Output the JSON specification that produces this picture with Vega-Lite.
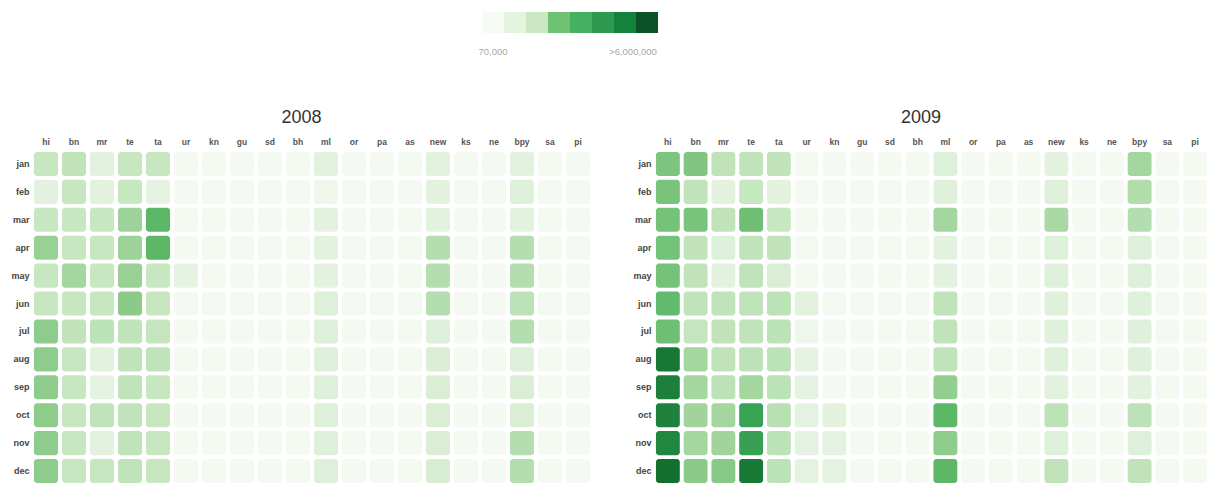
{
  "$schema": "https://vega.github.io/schema/vega-lite/v6.json",
  "background": "white",
  "padding": {"left": 10, "top": 12, "right": 0, "bottom": 0},
  "config": {
    "view": {"stroke": null},
    "font": "Liberation Sans",
    "axis": {"domain": false, "ticks": false, "grid": false, "title": null}
  },
  "datasets": {
    "legend": [
      {"swatch": 0}, {"swatch": 1}, {"swatch": 2}, {"swatch": 3},
      {"swatch": 4}, {"swatch": 5}, {"swatch": 6}, {"swatch": 7}
    ],
    "d2008": [
      {"month":"jan","lang":"hi","views":213000},{"month":"jan","lang":"bn","views":238000},{"month":"jan","lang":"mr","views":122000},{"month":"jan","lang":"te","views":213000},{"month":"jan","lang":"ta","views":213000},{"month":"jan","lang":"ur","views":68000},{"month":"jan","lang":"kn","views":55000},{"month":"jan","lang":"gu","views":50000},{"month":"jan","lang":"sd","views":30000},{"month":"jan","lang":"bh","views":35000},{"month":"jan","lang":"ml","views":122000},{"month":"jan","lang":"or","views":40000},{"month":"jan","lang":"pa","views":45000},{"month":"jan","lang":"as","views":30000},{"month":"jan","lang":"new","views":122000},{"month":"jan","lang":"ks","views":25000},{"month":"jan","lang":"ne","views":42000},{"month":"jan","lang":"bpy","views":122000},{"month":"jan","lang":"sa","views":20000},{"month":"jan","lang":"pi","views":15000},
      {"month":"feb","lang":"hi","views":122000},{"month":"feb","lang":"bn","views":213000},{"month":"feb","lang":"mr","views":122000},{"month":"feb","lang":"te","views":213000},{"month":"feb","lang":"ta","views":109000},{"month":"feb","lang":"ur","views":68000},{"month":"feb","lang":"kn","views":55000},{"month":"feb","lang":"gu","views":50000},{"month":"feb","lang":"sd","views":30000},{"month":"feb","lang":"bh","views":35000},{"month":"feb","lang":"ml","views":83000},{"month":"feb","lang":"or","views":40000},{"month":"feb","lang":"pa","views":45000},{"month":"feb","lang":"as","views":30000},{"month":"feb","lang":"new","views":122000},{"month":"feb","lang":"ks","views":25000},{"month":"feb","lang":"ne","views":42000},{"month":"feb","lang":"bpy","views":136000},{"month":"feb","lang":"sa","views":20000},{"month":"feb","lang":"pi","views":15000},
      {"month":"mar","lang":"hi","views":213000},{"month":"mar","lang":"bn","views":213000},{"month":"mar","lang":"mr","views":213000},{"month":"mar","lang":"te","views":416000},{"month":"mar","lang":"ta","views":1132000},{"month":"mar","lang":"ur","views":68000},{"month":"mar","lang":"kn","views":55000},{"month":"mar","lang":"gu","views":50000},{"month":"mar","lang":"sd","views":30000},{"month":"mar","lang":"bh","views":35000},{"month":"mar","lang":"ml","views":122000},{"month":"mar","lang":"or","views":40000},{"month":"mar","lang":"pa","views":45000},{"month":"mar","lang":"as","views":30000},{"month":"mar","lang":"new","views":122000},{"month":"mar","lang":"ks","views":25000},{"month":"mar","lang":"ne","views":42000},{"month":"mar","lang":"bpy","views":122000},{"month":"mar","lang":"sa","views":20000},{"month":"mar","lang":"pi","views":15000},
      {"month":"apr","lang":"hi","views":440000},{"month":"apr","lang":"bn","views":213000},{"month":"apr","lang":"mr","views":213000},{"month":"apr","lang":"te","views":416000},{"month":"apr","lang":"ta","views":1132000},{"month":"apr","lang":"ur","views":68000},{"month":"apr","lang":"kn","views":55000},{"month":"apr","lang":"gu","views":50000},{"month":"apr","lang":"sd","views":30000},{"month":"apr","lang":"bh","views":35000},{"month":"apr","lang":"ml","views":122000},{"month":"apr","lang":"or","views":40000},{"month":"apr","lang":"pa","views":45000},{"month":"apr","lang":"as","views":30000},{"month":"apr","lang":"new","views":282000},{"month":"apr","lang":"ks","views":25000},{"month":"apr","lang":"ne","views":42000},{"month":"apr","lang":"bpy","views":282000},{"month":"apr","lang":"sa","views":20000},{"month":"apr","lang":"pi","views":15000},
      {"month":"may","lang":"hi","views":213000},{"month":"may","lang":"bn","views":372000},{"month":"may","lang":"mr","views":213000},{"month":"may","lang":"te","views":440000},{"month":"may","lang":"ta","views":213000},{"month":"may","lang":"ur","views":109000},{"month":"may","lang":"kn","views":55000},{"month":"may","lang":"gu","views":50000},{"month":"may","lang":"sd","views":30000},{"month":"may","lang":"bh","views":35000},{"month":"may","lang":"ml","views":122000},{"month":"may","lang":"or","views":40000},{"month":"may","lang":"pa","views":45000},{"month":"may","lang":"as","views":30000},{"month":"may","lang":"new","views":282000},{"month":"may","lang":"ks","views":25000},{"month":"may","lang":"ne","views":42000},{"month":"may","lang":"bpy","views":282000},{"month":"may","lang":"sa","views":20000},{"month":"may","lang":"pi","views":15000},
      {"month":"jun","lang":"hi","views":213000},{"month":"jun","lang":"bn","views":213000},{"month":"jun","lang":"mr","views":213000},{"month":"jun","lang":"te","views":549000},{"month":"jun","lang":"ta","views":213000},{"month":"jun","lang":"ur","views":68000},{"month":"jun","lang":"kn","views":55000},{"month":"jun","lang":"gu","views":50000},{"month":"jun","lang":"sd","views":30000},{"month":"jun","lang":"bh","views":35000},{"month":"jun","lang":"ml","views":136000},{"month":"jun","lang":"or","views":40000},{"month":"jun","lang":"pa","views":45000},{"month":"jun","lang":"as","views":30000},{"month":"jun","lang":"new","views":282000},{"month":"jun","lang":"ks","views":25000},{"month":"jun","lang":"ne","views":42000},{"month":"jun","lang":"bpy","views":252000},{"month":"jun","lang":"sa","views":20000},{"month":"jun","lang":"pi","views":15000},
      {"month":"jul","lang":"hi","views":519000},{"month":"jul","lang":"bn","views":238000},{"month":"jul","lang":"mr","views":252000},{"month":"jul","lang":"te","views":238000},{"month":"jul","lang":"ta","views":225000},{"month":"jul","lang":"ur","views":68000},{"month":"jul","lang":"kn","views":55000},{"month":"jul","lang":"gu","views":50000},{"month":"jul","lang":"sd","views":30000},{"month":"jul","lang":"bh","views":35000},{"month":"jul","lang":"ml","views":136000},{"month":"jul","lang":"or","views":40000},{"month":"jul","lang":"pa","views":45000},{"month":"jul","lang":"as","views":30000},{"month":"jul","lang":"new","views":136000},{"month":"jul","lang":"ks","views":25000},{"month":"jul","lang":"ne","views":42000},{"month":"jul","lang":"bpy","views":282000},{"month":"jul","lang":"sa","views":20000},{"month":"jul","lang":"pi","views":15000},
      {"month":"aug","lang":"hi","views":519000},{"month":"aug","lang":"bn","views":213000},{"month":"aug","lang":"mr","views":122000},{"month":"aug","lang":"te","views":238000},{"month":"aug","lang":"ta","views":238000},{"month":"aug","lang":"ur","views":68000},{"month":"aug","lang":"kn","views":55000},{"month":"aug","lang":"gu","views":50000},{"month":"aug","lang":"sd","views":30000},{"month":"aug","lang":"bh","views":35000},{"month":"aug","lang":"ml","views":136000},{"month":"aug","lang":"or","views":40000},{"month":"aug","lang":"pa","views":45000},{"month":"aug","lang":"as","views":30000},{"month":"aug","lang":"new","views":144000},{"month":"aug","lang":"ks","views":25000},{"month":"aug","lang":"ne","views":42000},{"month":"aug","lang":"bpy","views":136000},{"month":"aug","lang":"sa","views":20000},{"month":"aug","lang":"pi","views":15000},
      {"month":"sep","lang":"hi","views":519000},{"month":"sep","lang":"bn","views":213000},{"month":"sep","lang":"mr","views":115000},{"month":"sep","lang":"te","views":238000},{"month":"sep","lang":"ta","views":213000},{"month":"sep","lang":"ur","views":68000},{"month":"sep","lang":"kn","views":55000},{"month":"sep","lang":"gu","views":50000},{"month":"sep","lang":"sd","views":30000},{"month":"sep","lang":"bh","views":35000},{"month":"sep","lang":"ml","views":136000},{"month":"sep","lang":"or","views":40000},{"month":"sep","lang":"pa","views":45000},{"month":"sep","lang":"as","views":30000},{"month":"sep","lang":"new","views":144000},{"month":"sep","lang":"ks","views":25000},{"month":"sep","lang":"ne","views":42000},{"month":"sep","lang":"bpy","views":144000},{"month":"sep","lang":"sa","views":20000},{"month":"sep","lang":"pi","views":15000},
      {"month":"oct","lang":"hi","views":519000},{"month":"oct","lang":"bn","views":213000},{"month":"oct","lang":"mr","views":238000},{"month":"oct","lang":"te","views":238000},{"month":"oct","lang":"ta","views":213000},{"month":"oct","lang":"ur","views":68000},{"month":"oct","lang":"kn","views":55000},{"month":"oct","lang":"gu","views":50000},{"month":"oct","lang":"sd","views":30000},{"month":"oct","lang":"bh","views":35000},{"month":"oct","lang":"ml","views":136000},{"month":"oct","lang":"or","views":40000},{"month":"oct","lang":"pa","views":45000},{"month":"oct","lang":"as","views":30000},{"month":"oct","lang":"new","views":144000},{"month":"oct","lang":"ks","views":25000},{"month":"oct","lang":"ne","views":42000},{"month":"oct","lang":"bpy","views":144000},{"month":"oct","lang":"sa","views":20000},{"month":"oct","lang":"pi","views":15000},
      {"month":"nov","lang":"hi","views":519000},{"month":"nov","lang":"bn","views":213000},{"month":"nov","lang":"mr","views":122000},{"month":"nov","lang":"te","views":238000},{"month":"nov","lang":"ta","views":213000},{"month":"nov","lang":"ur","views":68000},{"month":"nov","lang":"kn","views":55000},{"month":"nov","lang":"gu","views":50000},{"month":"nov","lang":"sd","views":30000},{"month":"nov","lang":"bh","views":35000},{"month":"nov","lang":"ml","views":136000},{"month":"nov","lang":"or","views":40000},{"month":"nov","lang":"pa","views":45000},{"month":"nov","lang":"as","views":30000},{"month":"nov","lang":"new","views":144000},{"month":"nov","lang":"ks","views":25000},{"month":"nov","lang":"ne","views":42000},{"month":"nov","lang":"bpy","views":282000},{"month":"nov","lang":"sa","views":20000},{"month":"nov","lang":"pi","views":15000},
      {"month":"dec","lang":"hi","views":519000},{"month":"dec","lang":"bn","views":213000},{"month":"dec","lang":"mr","views":213000},{"month":"dec","lang":"te","views":238000},{"month":"dec","lang":"ta","views":213000},{"month":"dec","lang":"ur","views":68000},{"month":"dec","lang":"kn","views":55000},{"month":"dec","lang":"gu","views":50000},{"month":"dec","lang":"sd","views":30000},{"month":"dec","lang":"bh","views":35000},{"month":"dec","lang":"ml","views":136000},{"month":"dec","lang":"or","views":40000},{"month":"dec","lang":"pa","views":45000},{"month":"dec","lang":"as","views":30000},{"month":"dec","lang":"new","views":153000},{"month":"dec","lang":"ks","views":25000},{"month":"dec","lang":"ne","views":42000},{"month":"dec","lang":"bpy","views":282000},{"month":"dec","lang":"sa","views":20000},{"month":"dec","lang":"pi","views":15000}
    ],
    "d2009": [
      {"month":"jan","lang":"hi","views":686000},{"month":"jan","lang":"bn","views":649000},{"month":"jan","lang":"mr","views":238000},{"month":"jan","lang":"te","views":238000},{"month":"jan","lang":"ta","views":238000},{"month":"jan","lang":"ur","views":68000},{"month":"jan","lang":"kn","views":55000},{"month":"jan","lang":"gu","views":50000},{"month":"jan","lang":"sd","views":30000},{"month":"jan","lang":"bh","views":35000},{"month":"jan","lang":"ml","views":136000},{"month":"jan","lang":"or","views":40000},{"month":"jan","lang":"pa","views":45000},{"month":"jan","lang":"as","views":30000},{"month":"jan","lang":"new","views":122000},{"month":"jan","lang":"ks","views":25000},{"month":"jan","lang":"ne","views":42000},{"month":"jan","lang":"bpy","views":372000},{"month":"jan","lang":"sa","views":20000},{"month":"jan","lang":"pi","views":15000},
      {"month":"feb","lang":"hi","views":725000},{"month":"feb","lang":"bn","views":238000},{"month":"feb","lang":"mr","views":122000},{"month":"feb","lang":"te","views":213000},{"month":"feb","lang":"ta","views":122000},{"month":"feb","lang":"ur","views":68000},{"month":"feb","lang":"kn","views":55000},{"month":"feb","lang":"gu","views":50000},{"month":"feb","lang":"sd","views":30000},{"month":"feb","lang":"bh","views":35000},{"month":"feb","lang":"ml","views":129000},{"month":"feb","lang":"or","views":40000},{"month":"feb","lang":"pa","views":45000},{"month":"feb","lang":"as","views":30000},{"month":"feb","lang":"new","views":136000},{"month":"feb","lang":"ks","views":25000},{"month":"feb","lang":"ne","views":42000},{"month":"feb","lang":"bpy","views":298000},{"month":"feb","lang":"sa","views":20000},{"month":"feb","lang":"pi","views":15000},
      {"month":"mar","lang":"hi","views":767000},{"month":"mar","lang":"bn","views":725000},{"month":"mar","lang":"mr","views":238000},{"month":"mar","lang":"te","views":857000},{"month":"mar","lang":"ta","views":213000},{"month":"mar","lang":"ur","views":68000},{"month":"mar","lang":"kn","views":55000},{"month":"mar","lang":"gu","views":50000},{"month":"mar","lang":"sd","views":30000},{"month":"mar","lang":"bh","views":35000},{"month":"mar","lang":"ml","views":372000},{"month":"mar","lang":"or","views":40000},{"month":"mar","lang":"pa","views":45000},{"month":"mar","lang":"as","views":30000},{"month":"mar","lang":"new","views":333000},{"month":"mar","lang":"ks","views":25000},{"month":"mar","lang":"ne","views":42000},{"month":"mar","lang":"bpy","views":282000},{"month":"mar","lang":"sa","views":20000},{"month":"mar","lang":"pi","views":15000},
      {"month":"apr","lang":"hi","views":767000},{"month":"apr","lang":"bn","views":238000},{"month":"apr","lang":"mr","views":136000},{"month":"apr","lang":"te","views":238000},{"month":"apr","lang":"ta","views":238000},{"month":"apr","lang":"ur","views":68000},{"month":"apr","lang":"kn","views":55000},{"month":"apr","lang":"gu","views":50000},{"month":"apr","lang":"sd","views":30000},{"month":"apr","lang":"bh","views":35000},{"month":"apr","lang":"ml","views":122000},{"month":"apr","lang":"or","views":40000},{"month":"apr","lang":"pa","views":45000},{"month":"apr","lang":"as","views":30000},{"month":"apr","lang":"new","views":136000},{"month":"apr","lang":"ks","views":25000},{"month":"apr","lang":"ne","views":42000},{"month":"apr","lang":"bpy","views":136000},{"month":"apr","lang":"sa","views":20000},{"month":"apr","lang":"pi","views":15000},
      {"month":"may","lang":"hi","views":767000},{"month":"may","lang":"bn","views":238000},{"month":"may","lang":"mr","views":122000},{"month":"may","lang":"te","views":238000},{"month":"may","lang":"ta","views":144000},{"month":"may","lang":"ur","views":68000},{"month":"may","lang":"kn","views":55000},{"month":"may","lang":"gu","views":50000},{"month":"may","lang":"sd","views":30000},{"month":"may","lang":"bh","views":35000},{"month":"may","lang":"ml","views":122000},{"month":"may","lang":"or","views":40000},{"month":"may","lang":"pa","views":45000},{"month":"may","lang":"as","views":30000},{"month":"may","lang":"new","views":136000},{"month":"may","lang":"ks","views":25000},{"month":"may","lang":"ne","views":42000},{"month":"may","lang":"bpy","views":136000},{"month":"may","lang":"sa","views":20000},{"month":"may","lang":"pi","views":15000},
      {"month":"jun","lang":"hi","views":1013000},{"month":"jun","lang":"bn","views":238000},{"month":"jun","lang":"mr","views":238000},{"month":"jun","lang":"te","views":238000},{"month":"jun","lang":"ta","views":252000},{"month":"jun","lang":"ur","views":122000},{"month":"jun","lang":"kn","views":55000},{"month":"jun","lang":"gu","views":50000},{"month":"jun","lang":"sd","views":30000},{"month":"jun","lang":"bh","views":35000},{"month":"jun","lang":"ml","views":238000},{"month":"jun","lang":"or","views":40000},{"month":"jun","lang":"pa","views":45000},{"month":"jun","lang":"as","views":30000},{"month":"jun","lang":"new","views":129000},{"month":"jun","lang":"ks","views":25000},{"month":"jun","lang":"ne","views":42000},{"month":"jun","lang":"bpy","views":129000},{"month":"jun","lang":"sa","views":20000},{"month":"jun","lang":"pi","views":15000},
      {"month":"jul","lang":"hi","views":857000},{"month":"jul","lang":"bn","views":225000},{"month":"jul","lang":"mr","views":238000},{"month":"jul","lang":"te","views":238000},{"month":"jul","lang":"ta","views":252000},{"month":"jul","lang":"ur","views":83000},{"month":"jul","lang":"kn","views":55000},{"month":"jul","lang":"gu","views":50000},{"month":"jul","lang":"sd","views":30000},{"month":"jul","lang":"bh","views":35000},{"month":"jul","lang":"ml","views":238000},{"month":"jul","lang":"or","views":40000},{"month":"jul","lang":"pa","views":45000},{"month":"jul","lang":"as","views":30000},{"month":"jul","lang":"new","views":129000},{"month":"jul","lang":"ks","views":25000},{"month":"jul","lang":"ne","views":42000},{"month":"jul","lang":"bpy","views":129000},{"month":"jul","lang":"sa","views":20000},{"month":"jul","lang":"pi","views":15000},
      {"month":"aug","lang":"hi","views":5092000},{"month":"aug","lang":"bn","views":372000},{"month":"aug","lang":"mr","views":238000},{"month":"aug","lang":"te","views":252000},{"month":"aug","lang":"ta","views":252000},{"month":"aug","lang":"ur","views":109000},{"month":"aug","lang":"kn","views":55000},{"month":"aug","lang":"gu","views":50000},{"month":"aug","lang":"sd","views":30000},{"month":"aug","lang":"bh","views":35000},{"month":"aug","lang":"ml","views":238000},{"month":"aug","lang":"or","views":40000},{"month":"aug","lang":"pa","views":45000},{"month":"aug","lang":"as","views":30000},{"month":"aug","lang":"new","views":129000},{"month":"aug","lang":"ks","views":25000},{"month":"aug","lang":"ne","views":42000},{"month":"aug","lang":"bpy","views":129000},{"month":"aug","lang":"sa","views":20000},{"month":"aug","lang":"pi","views":15000},
      {"month":"sep","lang":"hi","views":4308000},{"month":"sep","lang":"bn","views":372000},{"month":"sep","lang":"mr","views":252000},{"month":"sep","lang":"te","views":372000},{"month":"sep","lang":"ta","views":252000},{"month":"sep","lang":"ur","views":109000},{"month":"sep","lang":"kn","views":55000},{"month":"sep","lang":"gu","views":50000},{"month":"sep","lang":"sd","views":30000},{"month":"sep","lang":"bh","views":35000},{"month":"sep","lang":"ml","views":491000},{"month":"sep","lang":"or","views":40000},{"month":"sep","lang":"pa","views":45000},{"month":"sep","lang":"as","views":30000},{"month":"sep","lang":"new","views":122000},{"month":"sep","lang":"ks","views":25000},{"month":"sep","lang":"ne","views":42000},{"month":"sep","lang":"bpy","views":122000},{"month":"sep","lang":"sa","views":20000},{"month":"sep","lang":"pi","views":15000},
      {"month":"oct","lang":"hi","views":4074000},{"month":"oct","lang":"bn","views":393000},{"month":"oct","lang":"mr","views":372000},{"month":"oct","lang":"te","views":1976000},{"month":"oct","lang":"ta","views":266000},{"month":"oct","lang":"ur","views":115000},{"month":"oct","lang":"kn","views":122000},{"month":"oct","lang":"gu","views":50000},{"month":"oct","lang":"sd","views":30000},{"month":"oct","lang":"bh","views":35000},{"month":"oct","lang":"ml","views":1132000},{"month":"oct","lang":"or","views":40000},{"month":"oct","lang":"pa","views":45000},{"month":"oct","lang":"as","views":30000},{"month":"oct","lang":"new","views":252000},{"month":"oct","lang":"ks","views":25000},{"month":"oct","lang":"ne","views":42000},{"month":"oct","lang":"bpy","views":252000},{"month":"oct","lang":"sa","views":20000},{"month":"oct","lang":"pi","views":15000},
      {"month":"nov","lang":"hi","views":3645000},{"month":"nov","lang":"bn","views":372000},{"month":"nov","lang":"mr","views":393000},{"month":"nov","lang":"te","views":2089000},{"month":"nov","lang":"ta","views":252000},{"month":"nov","lang":"ur","views":115000},{"month":"nov","lang":"kn","views":115000},{"month":"nov","lang":"gu","views":50000},{"month":"nov","lang":"sd","views":30000},{"month":"nov","lang":"bh","views":35000},{"month":"nov","lang":"ml","views":519000},{"month":"nov","lang":"or","views":40000},{"month":"nov","lang":"pa","views":45000},{"month":"nov","lang":"as","views":30000},{"month":"nov","lang":"new","views":136000},{"month":"nov","lang":"ks","views":25000},{"month":"nov","lang":"ne","views":42000},{"month":"nov","lang":"bpy","views":136000},{"month":"nov","lang":"sa","views":20000},{"month":"nov","lang":"pi","views":15000},
      {"month":"dec","lang":"hi","views":6017000},{"month":"dec","lang":"bn","views":549000},{"month":"dec","lang":"mr","views":581000},{"month":"dec","lang":"te","views":4816000},{"month":"dec","lang":"ta","views":252000},{"month":"dec","lang":"ur","views":115000},{"month":"dec","lang":"kn","views":115000},{"month":"dec","lang":"gu","views":50000},{"month":"dec","lang":"sd","views":30000},{"month":"dec","lang":"bh","views":35000},{"month":"dec","lang":"ml","views":1132000},{"month":"dec","lang":"or","views":40000},{"month":"dec","lang":"pa","views":45000},{"month":"dec","lang":"as","views":30000},{"month":"dec","lang":"new","views":238000},{"month":"dec","lang":"ks","views":25000},{"month":"dec","lang":"ne","views":42000},{"month":"dec","lang":"bpy","views":238000},{"month":"dec","lang":"sa","views":20000},{"month":"dec","lang":"pi","views":15000}
    ]
  },
  "spacing": 53,
  "resolve": {"scale": {"x": "independent", "y": "independent", "color": "independent"}},
  "vconcat": [
    {
      "data": {"name": "legend"},
      "width": 1176,
      "height": 21,
      "mark": {"type": "rect"},
      "encoding": {
        "x": {
          "field": "swatch", "type": "ordinal",
          "scale": {"range": [450, 626], "paddingInner": 0, "paddingOuter": 0},
          "axis": {
            "orient": "bottom", "labelAngle": 0,
            "labelExpr": "datum.value == 0 ? '70,000' : datum.value == 7 ? '>6,000,000' : ''",
            "labelFontSize": 9.5, "labelColor": "#a8a8a8", "labelPadding": 13,
            "labelOffset": {"condition": {"test": "datum.value == 7", "value": -14}, "value": 0}
          }
        },
        "color": {
          "field": "swatch", "type": "ordinal", "legend": null,
          "scale": {"range": ["#f6fbf4", "#e3f4df", "#c9e8c2", "#6fc274", "#45b061", "#2f9a4f", "#14823a", "#0c5226"]}
        }
      }
    },
    {
      "spacing": 40,
      "resolve": {"scale": {"x": "independent", "y": "independent", "color": "independent"}},
      "hconcat": [
        {
          "data": {"name": "d2008"},
          "title": {"text": "2008", "fontSize": 18, "fontWeight": "normal", "color": "#333333", "frame": "bounds", "anchor": "middle", "offset": 10},
          "width": 560,
          "height": 335,
          "mark": {"type": "rect", "cornerRadius": 3},
          "encoding": {
            "x": {
              "field": "lang", "type": "nominal",
              "scale": {"domain": ["hi","bn","mr","te","ta","ur","kn","gu","sd","bh","ml","or","pa","as","new","ks","ne","bpy","sa","pi"], "paddingInner": 0.14, "paddingOuter": 0.07},
              "axis": {"orient": "top", "labelAngle": 0, "labelFontSize": 8.5, "labelFontWeight": "bold", "labelColor": "#555555", "labelPadding": 4}
            },
            "y": {
              "field": "month", "type": "nominal",
              "scale": {"domain": ["jan","feb","mar","apr","may","jun","jul","aug","sep","oct","nov","dec"], "paddingInner": 0.14, "paddingOuter": 0.07},
              "axis": {"labelFontSize": 9, "labelFontWeight": "bold", "labelColor": "#444444", "labelPadding": 3}
            },
            "color": {
              "field": "views", "type": "quantitative", "legend": null,
              "scale": {"type": "log", "clamp": true, "interpolate": "rgb",
                "domain": [70000, 120000, 210000, 370000, 650000, 1130000, 1980000, 3450000, 6000000],
                "range": ["#f4faf2", "#e3f2df", "#c8e7c2", "#a4d69f", "#80c680", "#5cb767", "#3aa254", "#238a42", "#12702f"]}
            }
          }
        },
        {
          "data": {"name": "d2009"},
          "title": {"text": "2009", "fontSize": 18, "fontWeight": "normal", "color": "#333333", "frame": "bounds", "anchor": "middle", "offset": 10},
          "width": 555,
          "height": 335,
          "mark": {"type": "rect", "cornerRadius": 3},
          "encoding": {
            "x": {
              "field": "lang", "type": "nominal",
              "scale": {"domain": ["hi","bn","mr","te","ta","ur","kn","gu","sd","bh","ml","or","pa","as","new","ks","ne","bpy","sa","pi"], "paddingInner": 0.14, "paddingOuter": 0.07},
              "axis": {"orient": "top", "labelAngle": 0, "labelFontSize": 8.5, "labelFontWeight": "bold", "labelColor": "#555555", "labelPadding": 4}
            },
            "y": {
              "field": "month", "type": "nominal",
              "scale": {"domain": ["jan","feb","mar","apr","may","jun","jul","aug","sep","oct","nov","dec"], "paddingInner": 0.14, "paddingOuter": 0.07},
              "axis": {"labelFontSize": 9, "labelFontWeight": "bold", "labelColor": "#444444", "labelPadding": 3}
            },
            "color": {
              "field": "views", "type": "quantitative", "legend": null,
              "scale": {"type": "log", "clamp": true, "interpolate": "rgb",
                "domain": [70000, 120000, 210000, 370000, 650000, 1130000, 1980000, 3450000, 6000000],
                "range": ["#f4faf2", "#e3f2df", "#c8e7c2", "#a4d69f", "#80c680", "#5cb767", "#3aa254", "#238a42", "#12702f"]}
            }
          }
        }
      ]
    }
  ]
}
